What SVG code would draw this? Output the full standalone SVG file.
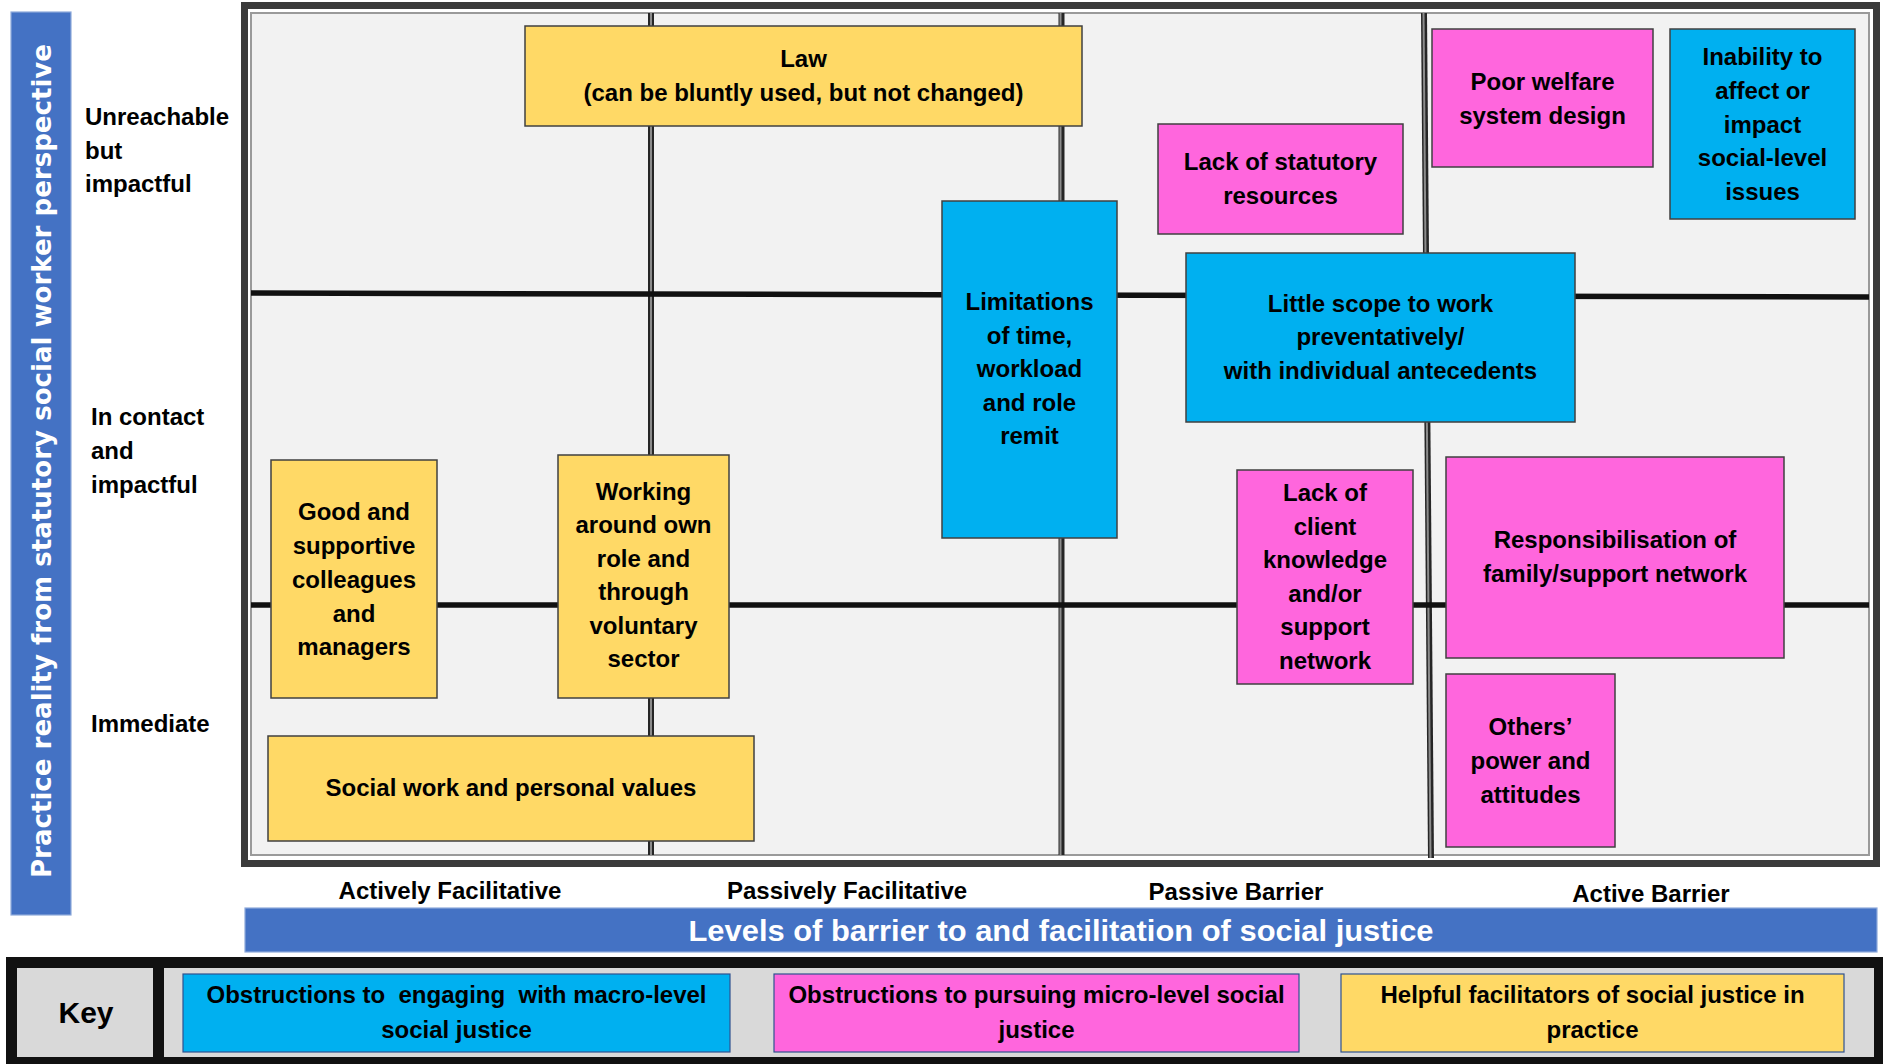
<svg xmlns="http://www.w3.org/2000/svg" width="1885" height="1064" viewBox="0 0 1885 1064">
<style>
  text { font-family: "Liberation Sans", Arial, sans-serif; font-weight: bold; font-size: 24px; fill: #000; }
  .c { text-anchor: middle; }
  .yl { fill: #ffd966; stroke: #404040; stroke-width: 1.5; }
  .pk { fill: #ff66dd; stroke: #404040; stroke-width: 1.5; }
  .bl { fill: #00b0f0; stroke: #404040; stroke-width: 1.5; }
  .kb { stroke: #2f528f; stroke-width: 1.2; }
  .vout { stroke: #262626; stroke-width: 6; fill: none; }
  .vin { stroke: #8c8c8c; stroke-width: 2; fill: none; }
  .h { stroke: #111; stroke-width: 5.5; fill: none; }
  .band { fill: #4472c4; stroke: #8eaadb; stroke-width: 1.2; }
  .wt { fill: #fff; }
</style>
<rect width="1885" height="1064" fill="#fff"/>

<!-- vertical axis band -->
<g id="axis-y">
  <rect class="band" x="11" y="12" width="60" height="903"/>
  <text class="c wt" transform="translate(51,461) rotate(-90)" x="0" y="0" style="font-family:'DejaVu Sans',Verdana,sans-serif;font-size:26px" textLength="834" lengthAdjust="spacingAndGlyphs">Practice reality from statutory social worker perspective</text>
</g>

<!-- row labels -->
<g id="row-labels">
  <text x="85"><tspan x="85" y="125">Unreachable</tspan><tspan x="85" y="159">but</tspan><tspan x="85" y="192">impactful</tspan></text>
  <text x="91"><tspan x="91" y="425">In contact</tspan><tspan x="91" y="459">and</tspan><tspan x="91" y="493">impactful</tspan></text>
  <text x="91" y="732">Immediate</text>
</g>

<!-- matrix frame -->
<g id="frame">
  <rect x="244.5" y="5.5" width="1632" height="858" fill="#fff" stroke="#3b3b3b" stroke-width="7"/>
  <rect x="251" y="13" width="1618" height="842" fill="#f2f2f2" stroke="#9a9a9a" stroke-width="2"/>
</g>

<!-- grid dividers -->
<g id="grid">
  <line class="vout" x1="651" y1="13" x2="651" y2="855"/>
  <line class="vin" x1="651" y1="13" x2="651" y2="855"/>
  <line class="vout" x1="1061.5" y1="13" x2="1061.5" y2="855"/>
  <line class="vin" x1="1060.5" y1="13" x2="1060.5" y2="855"/>
  <line class="vout" x1="1424" y1="13" x2="1431" y2="858"/>
  <line class="vin" x1="1423.5" y1="13" x2="1430.5" y2="858"/>
  <line class="h" x1="251" y1="293" x2="1869" y2="297"/>
  <line class="h" x1="251" y1="605" x2="1869" y2="605"/>
</g>

<!-- nodes -->
<g id="law">
  <rect class="yl" x="525" y="26" width="557" height="100"/>
  <text class="c"><tspan x="803.5" y="67">Law</tspan><tspan x="803.5" y="101">(can be bluntly used, but not changed)</tspan></text>
</g>
<g id="lack-statutory-resources">
  <rect class="pk" x="1158" y="124" width="245" height="110"/>
  <text class="c"><tspan x="1280.5" y="170">Lack of statutory</tspan><tspan x="1280.5" y="204">resources</tspan></text>
</g>
<g id="poor-welfare">
  <rect class="pk" x="1432" y="29" width="221" height="138"/>
  <text class="c"><tspan x="1542.5" y="90">Poor welfare</tspan><tspan x="1542.5" y="124">system design</tspan></text>
</g>
<g id="inability-social-level">
  <rect class="bl" x="1670" y="29" width="185" height="190"/>
  <text class="c"><tspan x="1762.5" y="65">Inability to</tspan><tspan x="1762.5" y="99">affect or</tspan><tspan x="1762.5" y="133">impact</tspan><tspan x="1762.5" y="166">social-level</tspan><tspan x="1762.5" y="200">issues</tspan></text>
</g>
<g id="limitations">
  <rect class="bl" x="942" y="201" width="175" height="337"/>
  <text class="c"><tspan x="1029.5" y="310">Limitations</tspan><tspan x="1029.5" y="344">of time,</tspan><tspan x="1029.5" y="377">workload</tspan><tspan x="1029.5" y="411">and role</tspan><tspan x="1029.5" y="444">remit</tspan></text>
</g>
<g id="little-scope">
  <rect class="bl" x="1186" y="253" width="389" height="169"/>
  <text class="c"><tspan x="1380.5" y="312">Little scope to work</tspan><tspan x="1380.5" y="345">preventatively/</tspan><tspan x="1380.5" y="379">with individual antecedents</tspan></text>
</g>
<g id="good-colleagues">
  <rect class="yl" x="271" y="460" width="166" height="238"/>
  <text class="c"><tspan x="354" y="520">Good and</tspan><tspan x="354" y="554">supportive</tspan><tspan x="354" y="588">colleagues</tspan><tspan x="354" y="622">and</tspan><tspan x="354" y="655">managers</tspan></text>
</g>
<g id="working-around">
  <rect class="yl" x="558" y="455" width="171" height="243"/>
  <text class="c"><tspan x="643.5" y="500">Working</tspan><tspan x="643.5" y="533">around own</tspan><tspan x="643.5" y="567">role and</tspan><tspan x="643.5" y="600">through</tspan><tspan x="643.5" y="634">voluntary</tspan><tspan x="643.5" y="667">sector</tspan></text>
</g>
<g id="values">
  <rect class="yl" x="268" y="736" width="486" height="105"/>
  <text class="c" x="511" y="796">Social work and personal values</text>
</g>
<g id="lack-client-knowledge">
  <rect class="pk" x="1237" y="470" width="176" height="214"/>
  <text class="c"><tspan x="1325" y="501">Lack of</tspan><tspan x="1325" y="535">client</tspan><tspan x="1325" y="568">knowledge</tspan><tspan x="1325" y="602">and/or</tspan><tspan x="1325" y="635">support</tspan><tspan x="1325" y="669">network</tspan></text>
</g>
<g id="responsibilisation">
  <rect class="pk" x="1446" y="457" width="338" height="201"/>
  <text class="c"><tspan x="1615" y="548">Responsibilisation of</tspan><tspan x="1615" y="582">family/support network</tspan></text>
</g>
<g id="others-power">
  <rect class="pk" x="1446" y="674" width="169" height="173"/>
  <text class="c"><tspan x="1530.5" y="735">Others’</tspan><tspan x="1530.5" y="769">power and</tspan><tspan x="1530.5" y="803">attitudes</tspan></text>
</g>

<!-- column labels and horizontal axis -->
<g id="axis-x">
  <text class="c" x="450" y="899">Actively Facilitative</text>
  <text class="c" x="847" y="899">Passively Facilitative</text>
  <text class="c" x="1236" y="900">Passive Barrier</text>
  <text class="c" x="1651" y="902">Active Barrier</text>
  <rect class="band" x="245" y="908" width="1632" height="44"/>
  <text class="c wt" x="1061" y="941" style="font-size:30px" textLength="745" lengthAdjust="spacingAndGlyphs">Levels of barrier to and facilitation of social justice</text>
</g>

<!-- legend -->
<g id="key">
  <rect x="6" y="957" width="1877" height="107" fill="#111"/>
  <rect x="17" y="968" width="136" height="89" fill="#d9d9d9"/>
  <rect x="164" y="968" width="1710" height="89" fill="#d9d9d9"/>
  <text class="c" x="86" y="1023" style="font-size:30px">Key</text>
  <g id="key-macro">
    <rect class="kb" x="183" y="974" width="547" height="78" fill="#00b0f0"/>
    <text class="c" xml:space="preserve"><tspan x="456.5" y="1003">Obstructions to  engaging  with macro-level</tspan><tspan x="456.5" y="1038">social justice</tspan></text>
  </g>
  <g id="key-micro">
    <rect class="kb" x="774" y="974" width="525" height="78" fill="#ff66dd"/>
    <text class="c"><tspan x="1036.5" y="1003">Obstructions to pursuing micro-level social</tspan><tspan x="1036.5" y="1038">justice</tspan></text>
  </g>
  <g id="key-helpful">
    <rect class="kb" x="1341" y="974" width="503" height="78" fill="#ffd966"/>
    <text class="c"><tspan x="1592.5" y="1003">Helpful facilitators of social justice in</tspan><tspan x="1592.5" y="1038">practice</tspan></text>
  </g>
</g>
</svg>
